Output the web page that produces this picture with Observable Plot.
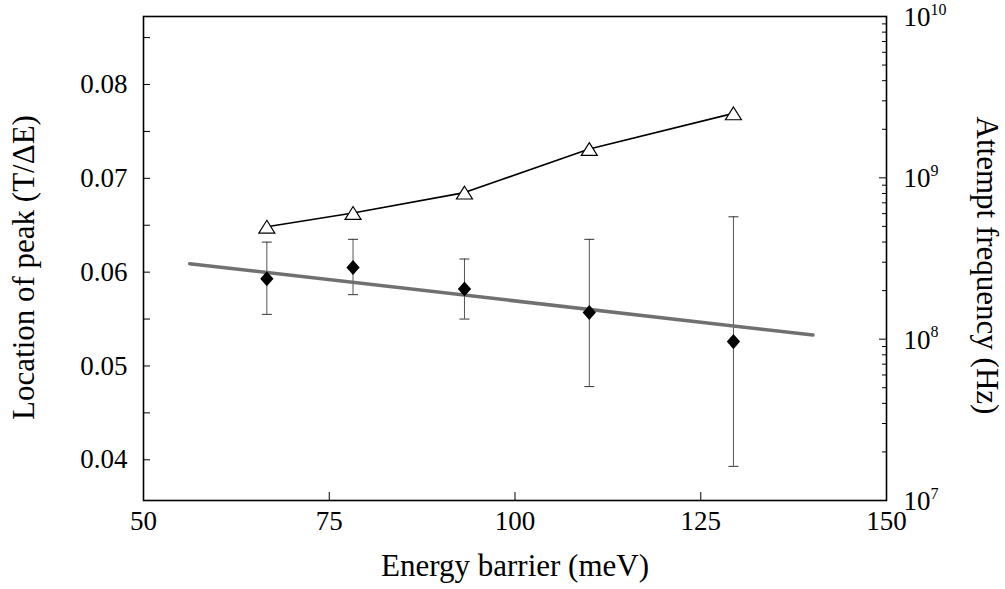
<!DOCTYPE html>
<html><head><meta charset="utf-8">
<script src="https://cdn.jsdelivr.net/npm/d3@7"></script>
<script src="https://cdn.jsdelivr.net/npm/@observablehq/plot@0.6"></script>
<style>
html,body{margin:0;padding:0;background:#fff}
</style>
</head><body><div id="chart"></div>
<script>
// ---- data ----
const barrier   = [66.6, 78.2, 93.2, 110.0, 129.4];          // meV
const peak      = [0.0593, 0.0605, 0.0582, 0.0557, 0.0526];  // T/ΔE
const peakLow   = [0.0555, 0.0576, 0.0550, 0.0478, 0.0393];
const peakHigh  = [0.0632, 0.0635, 0.0614, 0.0635, 0.0659];
const attemptHz = [4.98e8, 6.06e8, 8.1e8, 1.51e9, 2.51e9];   // Hz (right, log axis)
const fitBarrier = [56.2, 140.1];
const fitPeak    = [0.0609, 0.0533];
const xTicks = [50, 75, 100, 125, 150];
const xInnerTicks = [75, 100, 125];
const yTicks = [0.04, 0.05, 0.06, 0.07, 0.08];
const yMinorTicks = [0.04, 0.045, 0.05, 0.055, 0.06, 0.065, 0.07, 0.075, 0.08, 0.085];
const rightExponents = [7, 8, 9, 10];

// ---- layout ----
const W = 1005, H = 589;
const mL = 143, mR = 119, mT = 16, mB = 89;
const frameW = W - mL - mR, frameH = H - mT - mB;
const yDomain = [0.03566, 0.08725];
const logDomain = [7, 10];

// right (log) axis expressed on the left scale
const yR = f => yDomain[0] + (Math.log10(f) - logDomain[0]) / (logDomain[1] - logDomain[0]) * (yDomain[1] - yDomain[0]);

const points = barrier.map((x, i) => ({x, y: peak[i], lo: peakLow[i], hi: peakHigh[i], f: attemptHz[i]}));
const fit = fitBarrier.map((x, i) => ({x, y: fitPeak[i]}));
const decades = rightExponents.map(e => ({e, v: Math.pow(10, e)}));
const minor = [];
for (const e of rightExponents.slice(0, -1)) for (let m = 2; m <= 9; m++) minor.push(m * Math.pow(10, e));

const diamond = {draw(ctx, size) { const r = Math.sqrt(size / Math.PI);
  ctx.moveTo(0, -r * 1.08); ctx.lineTo(r * 0.95, 0); ctx.lineTo(0, r * 1.08); ctx.lineTo(-r * 0.95, 0); ctx.closePath(); }};
const triangle = {draw(ctx, size) { const r = Math.sqrt(size / Math.PI);
  ctx.moveTo(0, -r * 0.8); ctx.lineTo(r, r * 0.8); ctx.lineTo(-r, r * 0.8); ctx.closePath(); }};
const cap = {draw(ctx, size) { const r = Math.sqrt(size / Math.PI);
  ctx.moveTo(-r, 0); ctx.lineTo(r, 0); }};

const font = '"Liberation Serif", "DejaVu Serif", serif';

const chart = Plot.plot({
  width: W, height: H,
  marginLeft: mL, marginRight: mR, marginTop: mT, marginBottom: mB,
  style: {fontFamily: font, fontSize: "27px", color: "black", background: "white", overflow: "visible"},
  x: {domain: [50, 150]},
  y: {domain: yDomain},
  marks: [
    // tick labels via the library's axes (ticks drawn separately, inward)
    Plot.axisY(yTicks, {anchor: "left", tickSize: 0, tickPadding: 16, tickFormat: d => d.toFixed(2), label: null, fontSize: 27}),
    Plot.axisX(xTicks, {anchor: "bottom", tickSize: 0, tickPadding: 10, tickFormat: d => String(d), label: null, fontSize: 27}),
    // inward ticks
    Plot.tickY(yMinorTicks, {y: d => d, insetRight: frameW - 7, stroke: "black", strokeWidth: 1}),
    Plot.tickX(xInnerTicks, {x: d => d, insetTop: frameH - 8, stroke: "black", strokeWidth: 1}),
    Plot.tickY(decades, {y: d => yR(d.v), insetLeft: frameW - 7, stroke: "black", strokeWidth: 1}),
    Plot.tickY(minor, {y: d => yR(d), insetLeft: frameW - 4, stroke: "black", strokeWidth: 1}),
    // right axis labels 10^e
    Plot.text(decades, {y: d => yR(d.v), text: () => "10", frameAnchor: "right", textAnchor: "start", dx: 17, dy: 1, fontSize: 27}),
    Plot.text(decades, {y: d => yR(d.v), text: d => String(d.e), frameAnchor: "right", textAnchor: "start", dx: 44, dy: -7, fontSize: 16}),
    // error bars
    Plot.ruleX(points, {x: "x", y1: "lo", y2: "hi", stroke: "#555", strokeWidth: 1}),
    Plot.dot(points, {x: "x", y: "lo", symbol: cap, r: 5, stroke: "#333", strokeWidth: 1, fill: "none"}),
    Plot.dot(points, {x: "x", y: "hi", symbol: cap, r: 5, stroke: "#333", strokeWidth: 1, fill: "none"}),
    // fitted line
    Plot.line(fit, {x: "x", y: "y", stroke: "#707070", strokeWidth: 3.5}),
    // peak location diamonds
    Plot.dot(points, {x: "x", y: "y", symbol: diamond, r: 7, fill: "black", stroke: "none"}),
    // attempt frequency (right log axis)
    Plot.line(points, {x: "x", y: d => yR(d.f), stroke: "black", strokeWidth: 1.6}),
    Plot.dot(points, {x: "x", y: d => yR(d.f), symbol: triangle, r: 8, fill: "white", stroke: "black", strokeWidth: 1.2}),
    // frame
    Plot.frame({stroke: "black", strokeWidth: 1.6}),
    // axis titles
    Plot.text(["Energy barrier (meV)"], {frameAnchor: "bottom", textAnchor: "middle", dy: 75, fontSize: 31}),
    Plot.text(["Location of peak (T/\u0394E)"], {frameAnchor: "left", textAnchor: "middle", rotate: -90, dx: -119, dy: 9, fontSize: 31}),
    Plot.text(["Attempt frequency (Hz)"], {frameAnchor: "right", textAnchor: "middle", rotate: 90, dx: 100, dy: 7, fontSize: 31})
  ]
});
document.getElementById("chart").appendChild(chart);
</script>
</body></html>
